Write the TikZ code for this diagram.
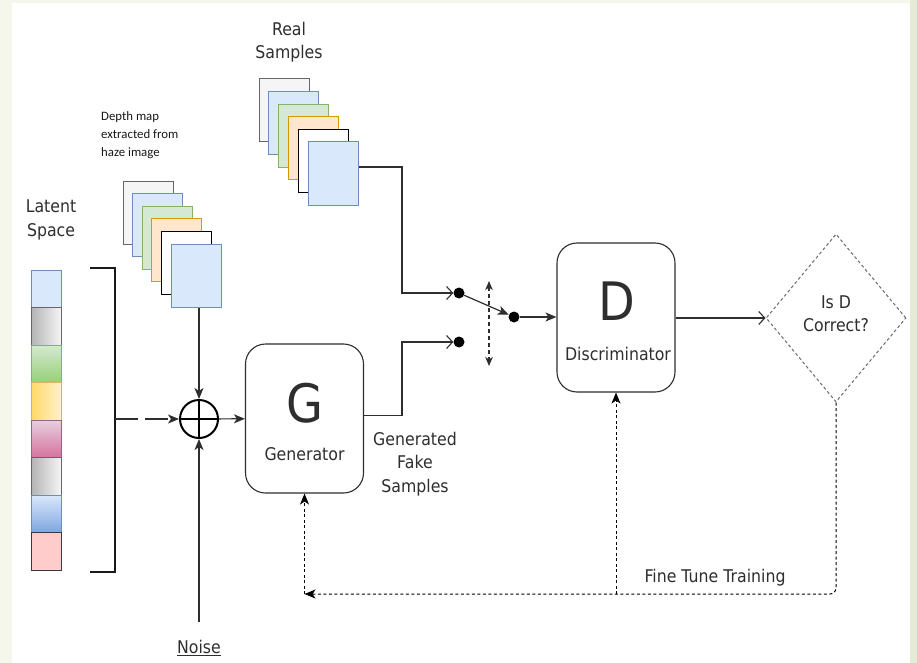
\documentclass[tikz,border=0pt]{standalone}
\usepackage{fontspec}
\setmainfont{DejaVu Sans}[FakeStretch=0.9]
\newfontfamily\notefont{Carlito}
\usetikzlibrary{arrows.meta,shapes.geometric}

\definecolor{framebg}{HTML}{F5F7EC}
\definecolor{frameside}{HTML}{E5EBD6}
\definecolor{txt}{HTML}{2E2E2E}
\definecolor{linecol}{HTML}{2E2E2E}
\definecolor{dashcol}{HTML}{6A6A6A}
% sheet colours (fill / border)
\definecolor{sheetfill1}{HTML}{F5F5F5}\definecolor{sheetdraw1}{HTML}{666666}
\definecolor{sheetfill2}{HTML}{DAE8FC}\definecolor{sheetdraw2}{HTML}{6C8EBF}
\definecolor{sheetfill3}{HTML}{D5E8D4}\definecolor{sheetdraw3}{HTML}{82B366}
\definecolor{sheetfill4}{HTML}{FFE6CC}\definecolor{sheetdraw4}{HTML}{D79B00}
\definecolor{sheetfill5}{HTML}{FFFFFF}\definecolor{sheetdraw5}{HTML}{000000}
\definecolor{sheetfill6}{HTML}{DAE8FC}\definecolor{sheetdraw6}{HTML}{6C8EBF}
% latent vector cells
\definecolor{lblue}{HTML}{DAE8FC}\definecolor{lblueb}{HTML}{6C8EBF}
\definecolor{lgrayA}{HTML}{B3B3B3}\definecolor{lgrayB}{HTML}{F5F5F5}\definecolor{lgrayb}{HTML}{666666}
\definecolor{lgreenA}{HTML}{D5E8D4}\definecolor{lgreenB}{HTML}{97D077}\definecolor{lgreenb}{HTML}{82B366}
\definecolor{lyelA}{HTML}{FFD966}\definecolor{lyelB}{HTML}{FFF2CC}\definecolor{lyelb}{HTML}{D6B656}
\definecolor{lpinkA}{HTML}{E6D0DE}\definecolor{lpinkB}{HTML}{D5739D}\definecolor{lpinkb}{HTML}{996185}
\definecolor{lblueA}{HTML}{DAE8FC}\definecolor{lblueB}{HTML}{7EA6E0}
\definecolor{lred}{HTML}{FFCCCC}\definecolor{lredb}{HTML}{36393D}

\begin{document}
\begin{tikzpicture}[x=1pt,y=-1pt,
  lbl/.style={text=txt,font=\fontsize{17.5}{23.5}\selectfont,align=center,inner sep=0pt},
  bigletter/.style={text=txt,font=\fontsize{53}{53}\selectfont,inner sep=0pt},
  sheet/.style={draw,line width=1pt,minimum width=50pt,minimum height=63pt,inner sep=0pt},
  block/.style={draw=linecol,line width=1.1pt,rounded corners=20pt,minimum width=118pt,minimum height=149pt,fill=white},
  dot/.style={circle,fill=black,minimum size=11pt,inner sep=0pt},
  flow/.style={draw=linecol,line width=1.2pt},
  solidtip/.style={-{Stealth[length=11pt,width=9pt,inset=3pt]}},
  opentip/.style={-{Straight Barb[length=6pt,width=13pt,line width=1.1pt]}},
  feedback/.style={draw=black,line width=1pt,dash pattern=on 3pt off 2.5pt},
  cell/.style={line width=0.9pt}
]
\useasboundingbox (0,0) rectangle (917,663);
% frame
\fill[framebg] (0,0) rectangle (917,663);
\fill[frameside] (910,0) rectangle (917,663);
\fill[white] (12,3) rectangle (910,663);

% latent space vector
\node[lbl] at (51,220) {Latent\\Space};
\filldraw[cell,fill=lblue,draw=lblueb] (31,270) rectangle (61,307.5);
\shade[left color=lgrayA,right color=lgrayB] (31,307.5) rectangle (61,345);
\draw[cell,draw=lgrayb] (31,307.5) rectangle (61,345);
\shade[top color=lgreenA,bottom color=lgreenB] (31,345) rectangle (61,382.5);
\draw[cell,draw=lgreenb] (31,345) rectangle (61,382.5);
\shade[left color=lyelA,right color=lyelB] (31,382.5) rectangle (61,420);
\draw[cell,draw=lyelb] (31,382.5) rectangle (61,420);
\shade[top color=lpinkA,bottom color=lpinkB] (31,420) rectangle (61,457.5);
\draw[cell,draw=lpinkb] (31,420) rectangle (61,457.5);
\shade[left color=lgrayA,right color=lgrayB] (31,457.5) rectangle (61,495);
\draw[cell,draw=lgrayb] (31,457.5) rectangle (61,495);
\shade[top color=lblueA,bottom color=lblueB] (31,495) rectangle (61,532.5);
\draw[cell,draw=lblueb] (31,495) rectangle (61,532.5);
\filldraw[cell,fill=lred,draw=lredb] (31,532.5) rectangle (61,570);

% bracket gathering the vector
\draw[line width=2.2pt,draw=black!90] (90,268) -| (115,572) -- (90,572);
\coordinate (bm) at (115,419);

% depth map stack
\node[text=black!90,font=\notefont\fontsize{12.8}{18}\selectfont,align=left,anchor=north west,inner sep=0pt]
  at (101,111) {Depth map\\extracted from\\haze image};
\foreach \i in {1,...,6}
  \node[sheet,fill=sheetfill\i,draw=sheetdraw\i] (depth\i) at ({148+(\i-1)*9.6},{212.5+(\i-1)*12.6}) {};

% real samples stack
\node[lbl] at (289,42) {Real\\Samples};
\foreach \i in {1,...,6}
  \node[sheet,fill=sheetfill\i,draw=sheetdraw\i] (real\i) at ({284+(\i-1)*9.8},{110.5+(\i-1)*12.6}) {};

% summing junction
\node[circle,draw=black,line width=2pt,minimum size=38pt,inner sep=0pt,
  path picture={\draw[line width=2pt] (path picture bounding box.north) -- (path picture bounding box.south)
                 (path picture bounding box.west) -- (path picture bounding box.east);}] (plus) at (199,419) {};

% noise input
\coordinate (nz) at (199,622);
\node[lbl] (noise) at (199,648) {\underline{Noise}};

% generator and discriminator
\node[block] (G) at (304.5,418.5) {};
\node[bigletter] at (304.5,403) {G};
\node[lbl] at (304.5,454) {Generator};
\node[lbl] at (415,464) {Generated\\Fake\\Samples};

\node[block] (D) at (616,317.5) {};
\node[bigletter] at (617,301) {D};
\node[lbl] at (618,354) {Discriminator};

% decision
\node[diamond,draw=dashcol,line width=1pt,dash pattern=on 3pt off 2.5pt,minimum width=140pt,minimum height=168pt,inner sep=0pt] (dia) at (836,318) {};
\node[lbl] at (836,313.5) {Is D\\Correct?};

% switch
\node[dot] (r) at (459,293) {};
\node[dot] (f) at (459,342) {};
\node[dot] (s) at (514,317) {};
\coordinate (sw1) at (489,281);
\coordinate (sw2) at (489,366);
\draw[flow,line width=1.1pt,dash pattern=on 4pt off 3pt,{Stealth[length=9pt,width=7.5pt,inset=2.5pt]}-{Stealth[length=9pt,width=7.5pt,inset=2.5pt]}] (sw1) -- (sw2);

% connectors
\draw[flow,solidtip,dash pattern=on 23pt off 7pt] (bm) -- (plus);
\draw[flow,solidtip] (plus.north |- depth6.south) -- (plus);
\draw[flow,solidtip] (nz) -- (plus);
\draw[flow,solidtip] (plus) -- (G);
\draw[flow,opentip] ([yshift=6.5pt]real6.east) -| (402,293) -- (r);
\draw[flow,opentip] ([yshift=3pt]G.east) -| (402,342) -- (f);
\draw[flow,solidtip] (r) -- (s);
\draw[flow,solidtip] (s) -- (s -| D.west);
\draw[flow,opentip] (D.east |- dia.west) -- (dia);

% fine tune feedback
\coordinate (fb) at (304.5,594);
\draw[feedback,solidtip,rounded corners=6pt] (dia.south) |- (fb);
\draw[feedback,solidtip] (fb) -- (G.south);
\draw[feedback,solidtip] (D.south |- fb) -- (D.south);
\node[lbl] at (715,578) {Fine Tune Training};
\end{tikzpicture}
\end{document}
